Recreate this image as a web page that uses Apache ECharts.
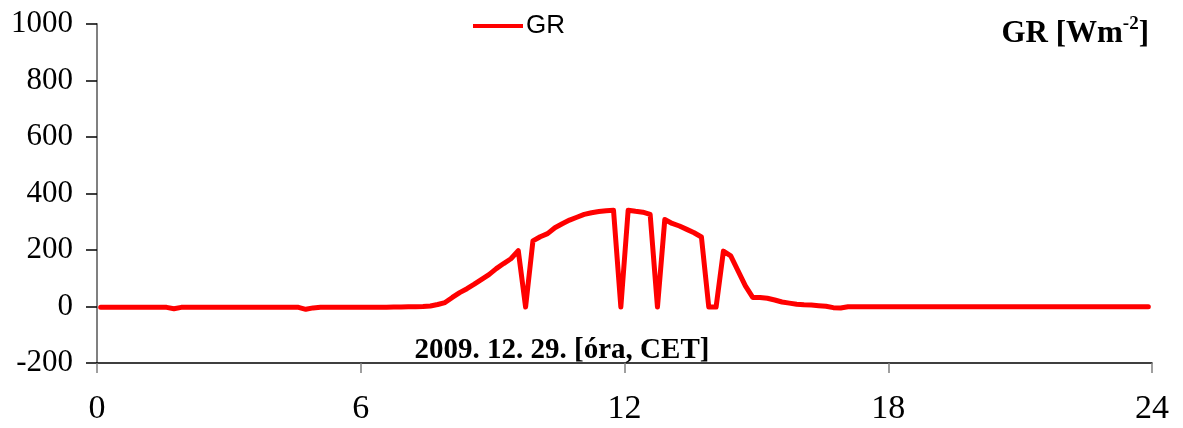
<!DOCTYPE html>
<html>
<head>
<meta charset="utf-8">
<script src="https://cdn.jsdelivr.net/npm/echarts@6/dist/echarts.min.js"></script>
<style>
  html, body { margin: 0; padding: 0; background: #ffffff; }
  #chart { width: 1183px; height: 428px; }
</style>
</head>
<body>
<div id="chart"></div>
<script>
// Global radiation, 10-minute means stamped at the middle of each interval (hh:m5)
const stepMinutes = 10;
const firstMinute = 5;

// 00:05 – 06:55
const grNight1 = [
  -3, -3, -3, -3, -3, -3, -3, -3, -3, -3,
  -8, -3, -3, -3, -3, -3, -3, -3, -3, -3,
  -3, -3, -3, -3, -3, -3, -3, -3, -10, -5,
  -3, -3, -3, -3, -3, -3, -3, -3, -3, -3,
  -2, -2
];

// 07:05 – 17:05
const grDay = [
  -1, -1, 0, 2, 7, 14,
  32, 49, 63, 79, 96, 113,
  134, 152, 169, 198, -2, 232,
  247, 258, 279, 293, 306, 316,
  326, 332, 336, 339, 341, -2,
  341, 337, 334, 326, -2, 308,
  294, 285, 273, 261, 246, -2,
  -2, 196, 179, 126, 73, 32,
  32, 29, 23, 16, 12, 8,
  6, 5, 3, 1, -4, -5,
  -1
];

// 17:15 – 23:55
const grNight2 = [
  -1, -1, -1, -1, -1, -1, -1, -1, -1, -1,
  -1, -1, -1, -1, -1, -1, -1, -1, -1, -1,
  -1, -1, -1, -1, -1, -1, -1, -1, -1, -1,
  -1, -1, -1, -1, -1, -1, -1, -1, -1, -1,
  -1
];

const xTicks = [0, 6, 12, 18, 24];
const yTicks = [-200, 0, 200, 400, 600, 800, 1000];

const seriesName = 'GR';
const unitTitle = 'GR [Wm';
const unitExp = '-2';
const dateTitle = '2009. 12. 29. [óra, CET]';

const grValues = grNight1.concat(grDay, grNight2);
const grPoints = grValues.map((v, i) => [(firstMinute + i * stepMinutes) / 60, v]);

const serif = '"Liberation Serif", "Times New Roman", serif';
const sans = '"Liberation Sans", Arial, sans-serif';

const chart = echarts.init(document.getElementById('chart'), null, { renderer: 'canvas' });

chart.setOption({
  backgroundColor: '#ffffff',
  animation: false,
  title: [
    {
      text: '{b|' + unitTitle + '}{s|' + unitExp + '}{b|]}',
      right: 29,
      top: 10,
      textStyle: {
        rich: {
          b: { fontFamily: serif, fontWeight: 'bold', fontSize: 31, color: '#000', verticalAlign: 'bottom', lineHeight: 34 },
          s: { fontFamily: serif, fontWeight: 'bold', fontSize: 19, color: '#000', verticalAlign: 'top', lineHeight: 34, padding: [0, 0, 16, 0] }
        }
      }
    },
    {
      text: dateTitle,
      left: 557,
      textAlign: 'center',
      top: 331,
      textStyle: { fontFamily: serif, fontWeight: 'bold', fontSize: 29, color: '#000' }
    }
  ],
  legend: {
    left: 473,
    top: 13,
    padding: 0,
    itemWidth: 50,
    itemHeight: 4,
    itemGap: 6,
    data: [{ name: seriesName, icon: 'rect' }],
    textStyle: { fontFamily: sans, fontSize: 26, color: '#000', padding: [0, 0, 0, -2] }
  },
  grid: { left: 97, right: 31, top: 24, bottom: 65, containLabel: false },
  xAxis: {
    type: 'value',
    min: xTicks[0],
    max: xTicks[xTicks.length - 1],
    interval: 6,
    axisLine: { onZero: false, lineStyle: { color: '#000', width: 1.5 } },
    axisTick: { show: true, length: 10, inside: false, lineStyle: { color: '#808080', width: 1.5 } },
    axisLabel: { fontFamily: serif, fontSize: 34, color: '#000', margin: 29 },
    splitLine: { show: false }
  },
  yAxis: {
    type: 'value',
    min: yTicks[0],
    max: yTicks[yTicks.length - 1],
    interval: 200,
    axisLine: { show: true, lineStyle: { color: '#808080', width: 2 } },
    axisTick: { show: true, length: 11, lineStyle: { color: '#000', width: 1.5 } },
    axisLabel: { fontFamily: serif, fontSize: 31, color: '#000', margin: 24, formatter: (v) => String(v) },
    splitLine: { show: false }
  },
  series: [
    {
      name: seriesName,
      type: 'line',
      data: grPoints,
      showSymbol: false,
      symbol: 'none',
      itemStyle: { color: '#ff0000' },
      lineStyle: { color: '#ff0000', width: 5, cap: 'round', join: 'round' },
      z: 3
    }
  ]
});
</script>
</body>
</html>
